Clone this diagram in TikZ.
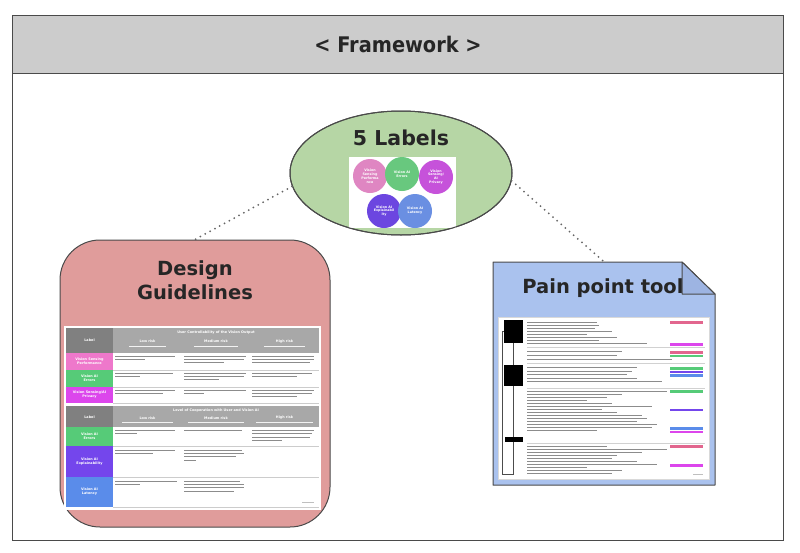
\documentclass[tikz,border=0pt]{standalone}
\usepackage{fontspec}
\setmainfont{DejaVu Sans}
\newfontfamily\condfont{DejaVu Sans Condensed}
\usetikzlibrary{shapes.geometric}
\definecolor{hdrgray}{HTML}{CCCCCC}
\definecolor{edgec}{HTML}{4A4A4A}
\definecolor{lgreen}{HTML}{B6D6A5}
\definecolor{salmon}{HTML}{E09C9B}
\definecolor{docblue}{HTML}{AAC2EE}
\definecolor{foldblue}{HTML}{9DB4E2}
\definecolor{cpink}{HTML}{DF86C2}
\definecolor{cgreen}{HTML}{68C87E}
\definecolor{cmag}{HTML}{C652DA}
\definecolor{cviolet}{HTML}{6C46E0}
\definecolor{cblue}{HTML}{6A8FE2}
\definecolor{tpink}{HTML}{EE78CB}
\definecolor{tgreen}{HTML}{56CB78}
\definecolor{tmag}{HTML}{DC46EC}
\definecolor{tviolet}{HTML}{7446EC}
\definecolor{tblue}{HTML}{5A8CEA}
\definecolor{thdark}{HTML}{808080}
\definecolor{thlight}{HTML}{A8A8A8}
\definecolor{barc}{HTML}{8C8C8C}
\definecolor{tagred}{HTML}{E2668E}
\tikzset{
  bigtitle/.style={font=\fontsize{19.5}{24}\selectfont\bfseries, text=black!85, align=center},
  labcircle/.style={circle, minimum size=34pt, inner sep=0pt, text=white, align=center,
     font=\fontsize{3.3}{3.9}\selectfont\bfseries},
  tabtext/.style={text=white, font=\fontsize{3.4}{4}\selectfont\bfseries, align=center, inner sep=0pt},
  dotline/.style={draw=edgec!85, line width=2pt, line cap=round, dash pattern=on 0pt off 5.5pt},
}
\newcommand\mybars[4]{% x, y, list of widths, step
  \foreach \w [count=\i from 0] in {#3} {\fill[barc] (#1,#2+\i*#4) rectangle +(\w,0.8);}}
\begin{document}
\begin{tikzpicture}[x=1pt,y=-1pt]
\useasboundingbox (0,0) rectangle (800,552);
% frame
\draw[edgec, line width=0.9pt, fill=white] (12,15) rectangle (783,540);
\draw[edgec, line width=0.9pt, fill=hdrgray] (12,15) rectangle (783,73);
\node[font=\condfont\fontsize{21.5}{24}\selectfont\bfseries, text=black!85] (fw) at (398,44) {< Framework >};

% ---------- 5 labels ellipse
\node[ellipse, draw=edgec, line width=1pt, fill=lgreen, minimum width=222pt, minimum height=124pt] (labels) at (401,173) {};
\node[font=\fontsize{20.5}{22}\selectfont\bfseries, text=black!85] (labt) at (401,138) {5 Labels};
\fill[white] (349,157) rectangle (456,228);
\draw[edgec, line width=1pt] (labels) ellipse [x radius=111pt, y radius=62pt];
\node[labcircle, fill=cpink] (c1) at (370,176) {Vision\\Sensing\\Performa\\nce};
\node[labcircle, fill=cgreen] (c2) at (402,174) {Vision AI\\Errors};
\node[labcircle, fill=cmag] (c3) at (436,177) {Vision\\Sensing/\\AI\\Privacy};
\node[labcircle, fill=cviolet] (c4) at (384,211) {Vision AI\\Explainabil\\ity};
\node[labcircle, fill=cblue] (c5) at (415,211) {Vision AI\\Latency};

% ---------- Design guidelines
\node[draw=edgec, line width=1pt, fill=salmon, rounded corners=40pt, minimum width=270pt, minimum height=287pt, inner sep=0pt] (dg) at (195,383.5) {};
\node[bigtitle] (dgt) at (195,280) {Design\\Guidelines};
% table background
\fill[white] (64,326) rectangle (321,510);
% --- table 1
\fill[thdark] (66,328) rectangle (113,353);
\fill[thlight] (113,328) rectangle (319,353);
\node[tabtext] (t1h) at (216,333) {User Controllability of the Vision Output};
\node[tabtext] (t1l) at (89.5,340.5) {Label};
\node[tabtext] (t1a) at (147.5,341.5) {Low risk};
\node[tabtext] (t1b) at (216,341.5) {Medium risk};
\node[tabtext] (t1c) at (284.5,341.5) {High risk};
\foreach \x/\w in {129/37,194/44,264/41} {\fill[white!85!thlight] (\x,345.5) rectangle +(\w,0.7);}
\fill[tpink] (66,353) rectangle (113,370);
\fill[tgreen] (66,370) rectangle (113,387);
\fill[tmag] (66,387) rectangle (113,403);
\node[tabtext] (r1) at (89.5,361.5) {Vision Sensing\\Performance};
\node[tabtext] (r2) at (89.5,378.5) {Vision AI\\Errors};
\node[tabtext] (r3) at (89.5,395) {Vision Sensing/AI\\Privacy};
\foreach \y in {370,387,403} {\draw[black!20, line width=0.4pt] (113,\y) -- (319,\y);}
\mybars{115}{356}{60,30}{3.2}
\mybars{184}{356}{62,60,40}{3.2}
\mybars{252}{356}{62,62,58}{3.2}
\mybars{115}{373}{58,25}{3.2}
\mybars{184}{373}{62,60,35}{3.2}
\mybars{252}{373}{60,45}{3.2}
\mybars{115}{390}{60,48}{3.2}
\mybars{184}{390}{62,20}{3.2}
\mybars{252}{390}{62,60,45}{3.2}
% --- table 2
\fill[thdark] (66,406) rectangle (113,427);
\fill[thlight] (113,406) rectangle (319,427);
\node[tabtext] (t2h) at (216,411) {Level of Cooperation with User and Vision AI};
\node[tabtext] (t2l) at (89.5,417.5) {Label};
\node[tabtext] (t2a) at (147.5,418) {Low risk};
\node[tabtext] (t2b) at (216,418) {Medium risk};
\node[tabtext] (t2c) at (284.5,418) {High risk};
\foreach \x/\w in {122/51,188/56,256/57} {\fill[white!85!thlight] (\x,422) rectangle +(\w,0.7);}
\fill[tgreen] (66,427) rectangle (113,446);
\fill[tviolet] (66,446) rectangle (113,477);
\fill[tblue] (66,477) rectangle (113,507);
\node[tabtext] (r4) at (89.5,436.5) {Vision AI\\Errors};
\node[tabtext] (r5) at (89.5,461.5) {Vision AI\\Explainability};
\node[tabtext] (r6) at (89.5,492) {Vision AI\\Latency};
\foreach \y in {446,477,507} {\draw[black!20, line width=0.4pt] (113,\y) -- (319,\y);}
\mybars{115}{430}{60,22}{3.4}
\mybars{184}{430}{58}{3.4}
\mybars{252}{430}{62,60,58,30}{3.4}
\mybars{115}{449.5}{60,38}{3.4}
\mybars{184}{449.5}{58,60,52,12}{3.4}
\mybars{115}{480.5}{62,25}{3.4}
\mybars{184}{480.5}{56,60,60,50}{3.4}
\fill[black!25] (302,502) rectangle +(12,0.7);

% ---------- Pain point tool
\node[minimum width=222pt, minimum height=223pt, inner sep=0pt] (ppt) at (604,373.5) {};
\draw[edgec, line width=1pt, fill=docblue, line join=round] (493,262) -- (682,262) -- (715,294) -- (715,485) -- (493,485) -- cycle;
\draw[edgec, line width=1pt, fill=foldblue, line join=round] (682,262) -- (682,294) -- (715,294) -- cycle;
\node[bigtitle] (pptt) at (603,288) {Pain point tool};
\draw[black!15, fill=white] (498,317) rectangle (709,479);
% flow boxes
\fill[black] (504,320) rectangle (523,343);
\fill[black] (504,365) rectangle (523,386);
\fill[black] (505,437) rectangle (523,442);
\draw[black!70, line width=0.6pt] (513.5,343) -- (513.5,365);
\draw[black!70, line width=0.6pt] (513.5,386) -- (513.5,437);
\draw[black!70, line width=0.6pt] (513.5,442) -- (513.5,474) -- (502,474) -- (502,331) -- (504,331);
% separators
\foreach \y in {347,363,388,443} {\draw[black!18, line width=0.4pt] (527,\y) -- (705,\y);}
\mybars{527}{322}{70,72,68,85,60,90,72,120}{3}
\mybars{527}{351}{95,90,145}{3.8}
\mybars{527}{367}{110,105,100,110,135}{3.5}
\mybars{527}{390.5}{140,95,80,60,85,125,75,90,115,120,110,130,125,70}{3}
\mybars{527}{446}{80,140,115,90,85,110,130,60,95,85}{3}
\fill[black!25] (693,474) rectangle +(10,0.6);
% tags
\foreach \y/\c in {321/tagred,343/tmag,351/tagred,354.5/tgreen,367/tgreen,370.5/tviolet,374/tblue,390/tgreen,408.5/tviolet,427/tblue,430.5/tmag,445/tagred,464/tmag}
  {\fill[\c] (670,\y) rectangle +(33,2.8);}

% ---------- dotted connectors
\draw[dotline] (labels.187) -- (dg.north);
\draw[dotline] (labels.356) -- (ppt.north);
\end{tikzpicture}
\end{document}
